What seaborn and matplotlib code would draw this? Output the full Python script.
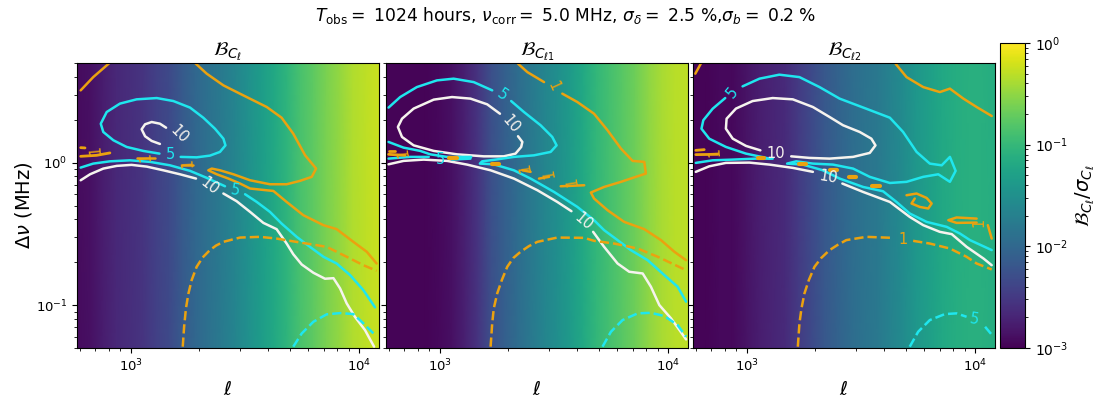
# Bias over sigma maps in the (ell, delta nu) plane, three panels plus a shared colour bar

import numpy as np
import pandas as pd
import matplotlib
matplotlib.use("Agg")
import matplotlib.pyplot as plt
from matplotlib.colors import LogNorm
import seaborn as sns

ORANGE = "#eba20f"
CYAN = "#1fe6ee"
WHITE = "#f6f3ee"

# background: bias / sigma at 24 equal log-ell steps
bias_cl = [1.23e-3, 1.32e-3, 1.74e-3, 2.14e-3, 2.45e-3, 2.82e-3, 3.72e-3, 4.57e-3,
           6.9e-3, 9.8e-3, 1.29e-2, 1.70e-2, 2.24e-2, 3.16e-2, 4.47e-2, 6.3e-2,
           8.9e-2, 1.35e-1, 1.78e-1, 2.5e-1, 3.3e-1, 4.4e-1, 5.0e-1, 5.8e-1]
bias_cl1 = [1.07e-3, 1.07e-3, 1.07e-3, 1.07e-3, 1.15e-3, 1.32e-3, 1.86e-3, 2.82e-3,
            5.2e-3, 7.9e-3, 1.12e-2, 1.58e-2, 2.24e-2, 2.95e-2, 4.2e-2, 6.3e-2,
            9.5e-2, 1.26e-1, 1.66e-1, 2.2e-1, 3.1e-1, 4.0e-1, 4.7e-1, 5.0e-1]
bias_cl2 = [1.07e-3, 1.07e-3, 1.15e-3, 1.15e-3, 1.41e-3, 1.74e-3, 2.0e-3, 2.3e-3,
            3.2e-3, 4.6e-3, 6.5e-3, 8.5e-3, 1.12e-2, 1.38e-2, 1.58e-2, 2.1e-2,
            2.75e-2, 3.9e-2, 4.8e-2, 6.3e-2, 7.2e-2, 7.8e-2, 7.8e-2, 7.2e-2]

# contour lines, log10(ell) and log10(delta nu in MHz)
# panel 1
a_w1_l = [2.781, 2.822, 2.880, 2.939, 3.004, 3.070, 3.143, 3.216, 3.286]
a_w1_d = [-.124, -.082, -.042, -.023, -.016, -.028, -.054, -.082, -.112]
a_w2_l = [3.406, 3.464, 3.523, 3.581, 3.639, 3.683, 3.712, 3.749, 3.800, 3.851, 3.888, 3.917, 3.946, 3.982, 4.026, 4.066]
a_w2_d = [-.217, -.271, -.346, -.423, -.467, -.568, -.643, -.715, -.773, -.815, -.811, -.883, -.988, -1.082, -1.175, -1.292]
a_w3_l = [3.155, 3.128, 3.092, 3.063, 3.048, 3.063, 3.092, 3.128]
a_w3_d = [.245, .273, .285, .269, .234, .185, .152, .131]
a_c1_l = [3.126, 3.055, 2.982, 2.924, 2.880, 2.869, 2.895, 2.953, 3.026, 3.114, 3.187, 3.260, 3.318, 3.369, 3.406, 3.415, 3.391, 3.347, 3.289, 3.219]
a_c1_d = [.063, .082, .110, .157, .215, .273, .355, .414, .444, .453, .432, .386, .315, .238, .168, .121, .075, .049, .037, .040]
a_c2_l = [2.781, 2.836, 2.909, 2.997, 3.085, 3.172, 3.260, 3.333, 3.413]
a_c2_d = [-.035, -.007, .009, .016, .005, -.019, -.058, -.107, -.166]
a_c3_l = [3.501, 3.552, 3.610, 3.661, 3.727, 3.785, 3.844, 3.902, 3.961, 4.019, 4.070]
a_c3_d = [-.222, -.276, -.346, -.428, -.521, -.591, -.661, -.708, -.790, -.895, -1.016]
a_cd_l = [3.712, 3.749, 3.800, 3.858, 3.917, 3.975, 4.019, 4.070]
a_cd_d = [-1.292, -1.199, -1.117, -1.065, -1.056, -1.063, -1.128, -1.210]
a_o1_l = [2.781, 2.836, 2.907]
a_o1_d = [.507, .600, .699]
a_o2_l = [3.282, 3.333, 3.406, 3.493, 3.596, 3.661, 3.712, 3.764, 3.812, 3.793, 3.742, 3.683, 3.610, 3.523, 3.450, 3.391, 3.355,
          3.340, 3.377, 3.428, 3.479, 3.523, 3.625, 3.683, 3.756, 3.844, 3.902, 3.975, 4.034, 4.077]
a_o2_d = [.699, .624, .542, .472, .390, .315, .203, .051, -.042, -.100, -.128, -.152, -.152, -.124, -.082, -.054, -.042,
          -.054, -.082, -.112, -.147, -.182, -.199, -.276, -.369, -.439, -.467, -.556, -.626, -.708]
a_od_l = [3.228, 3.234, 3.242, 3.253, 3.267, 3.289, 3.315, 3.347, 3.374, 3.406, 3.479, 3.566, 3.639, 3.698, 3.771, 3.858, 3.946, 4.019, 4.077]
a_od_d = [-1.292, -1.152, -1.023, -.918, -.825, -.731, -.666, -.614, -.582, -.556, -.526, -.521, -.533, -.549, -.568, -.591, -.661, -.720, -.759]
a_f1_l = [2.781, 2.851, 2.909]
a_f1_d = [.044, .051, .068]
a_f2_l = [2.781, 2.800]
a_f2_d = [.105, .103]
a_f3_l = [3.026, 3.107]
a_f3_d = [.030, .030]
a_f4_l = [3.223, 3.272]
a_f4_d = [-.019, -.019]

# panel 2
b_w1_l = [2.776, 2.842, 2.930, 3.032, 3.120, 3.223, 3.325, 3.428, 3.515, 3.577]
b_w1_d = [-.012, .012, .021, .012, -.014, -.054, -.112, -.194, -.276, -.341]
b_w2_l = [3.672, 3.720, 3.779, 3.830, 3.889, 3.925, 3.962, 4.013, 4.050, 4.079]
b_w2_d = [-.486, -.591, -.708, -.766, -.778, -.871, -1.000, -1.093, -1.175, -1.241]
b_w3_l = [3.264, 3.208, 3.135, 3.054, 2.974, 2.886, 2.835, 2.817, 2.835, 2.886, 2.974, 3.076, 3.193, 3.281, 3.332, 3.357, 3.362, 3.343]
b_w3_d = [.343, .409, .449, .460, .442, .379, .308, .250, .180, .121, .082, .058, .044, .044, .063, .110, .145, .185]
b_c1_l = [2.776, 2.827, 2.900, 2.988, 3.061, 3.149, 3.230]
b_c1_d = [.386, .460, .530, .577, .589, .565, .507]
b_c2_l = [3.313, 3.369, 3.442, 3.493, 3.512, 3.486, 3.413, 3.325, 3.245, 3.186, 3.176, 3.237, 3.325, 3.398, 3.501, 3.603, 3.676, 3.720, 3.779, 3.837, 3.911, 3.984, 4.042, 4.079]
b_c2_d = [.432, .355, .262, .180, .121, .075, .051, .040, .021, .009, -.007, -.012, -.054, -.112, -.206, -.311, -.404, -.474, -.544, -.614, -.685, -.790, -.871, -.976]
b_c3_l = [2.776, 2.842, 2.915, 2.959, 3.032, 3.138]
b_c3_d = [.145, .105, .082, .058, .040, .040]
b_c4_l = [2.776, 2.871, 2.952]
b_c4_d = [.028, .040, .040]
b_c5_l = [3.054, 3.135]
b_c5_d = [.021, .028]
b_cd_l = [3.713, 3.750, 3.801, 3.867, 3.925, 3.984, 4.042, 4.079]
b_cd_d = [-1.292, -1.187, -1.105, -1.058, -1.054, -1.077, -1.140, -1.222]
b_o1_l = [3.343, 3.384, 3.457]
b_o1_d = [.694, .635, .565]
b_o2_l = [3.537, 3.603, 3.676, 3.735, 3.794, 3.845, 3.896, 3.903, 3.859, 3.794, 3.720, 3.662, 3.676, 3.735, 3.808, 3.896, 3.969, 4.028, 4.079]
b_o2_d = [.484, .425, .343, .227, .098, .012, .005, -.077, -.100, -.135, -.171, -.210, -.252, -.334, -.416, -.467, -.544, -.626, -.685]
b_od_l = [3.223, 3.230, 3.237, 3.252, 3.272, 3.296, 3.322, 3.354, 3.391, 3.428, 3.515, 3.633, 3.676, 3.764, 3.867, 3.955, 4.079]
b_od_d = [-1.292, -1.128, -1.023, -.918, -.825, -.731, -.670, -.626, -.586, -.556, -.526, -.528, -.549, -.568, -.603, -.661, -.755]
b_f1_l = [2.776, 2.805]
b_f1_d = [.082, .082]
b_f2_l = [2.776, 2.849]
b_f2_d = [.058, .051]
b_f3_l = [3.040, 3.076]
b_f3_d = [.035, .035]
b_f4_l = [3.230, 3.259]
b_f4_d = [-.007, -.007]
b_f5_l = [3.362, 3.398]
b_f5_d = [-.054, -.065]
b_f6_l = [3.435, 3.479]
b_f6_d = [-.112, -.100]
b_f7_l = [3.530, 3.633]
b_f7_d = [-.166, -.159]

# panel 3
c_w1_l = [2.777, 2.836, 2.909, 3.012, 3.100, 3.202, 3.290]
c_w1_d = [-.065, -.026, -.002, 0, -.014, -.037, -.065]
c_w2_l = [3.419, 3.510, 3.627, 3.714, 3.773, 3.846, 3.898, 3.963, 4.037, 4.073]
c_w2_d = [-.147, -.206, -.276, -.381, -.439, -.486, -.502, -.591, -.673, -.720]
c_w3_l = [3.060, 2.997, 2.939, 2.909, 2.912, 2.953, 3.026, 3.114, 3.202, 3.290, 3.363, 3.422, 3.495, 3.546, 3.564, 3.539, 3.466, 3.363, 3.275, 3.195]
c_w3_d = [.086, .117, .168, .238, .308, .379, .432, .453, .444, .390, .320, .262, .215, .168, .121, .068, .040, .028, .033, .044]
c_c1_l = [2.982, 3.056, 3.143, 3.231, 3.319, 3.407, 3.524, 3.627, 3.685, 3.744, 3.802, 3.854, 3.890, 3.915, 3.890, 3.839, 3.773, 3.700, 3.627,
          3.539, 3.466, 3.378, 3.290, 3.217, 3.177, 3.246, 3.334, 3.407, 3.510, 3.597, 3.656, 3.714, 3.788, 3.876, 3.934, 3.978, 4.073]
c_c1_d = [.535, .589, .617, .600, .530, .449, .378, .315, .215, .075, -.007, -.019, .040, -.058, -.135, -.082, -.100, -.135, -.143,
          -.100, -.042, -.014, -.007, .009, -.007, -.014, -.054, -.112, -.171, -.201, -.276, -.357, -.416, -.451, -.498, -.544, -.614]
c_c2_l = [2.906, 2.851, 2.810, 2.802, 2.836, 2.909, 2.997, 3.100]
c_c2_d = [.453, .378, .297, .238, .168, .110, .063, .028]
c_c3_l = [2.777, 2.851, 2.939, 3.041, 3.114]
c_c3_d = [-.002, .016, .021, .028, .028]
c_cd1_l = [3.714, 3.751, 3.802, 3.868, 3.919, 3.963]
c_cd1_d = [-1.292, -1.187, -1.105, -1.063, -1.058, -1.082]
c_cd2_l = [4.044, 4.078]
c_cd2_d = [-1.152, -1.217]
c_o1_l = [3.652, 3.700, 3.773, 3.846, 3.890, 3.949, 4.007, 4.073]
c_o1_d = [.694, .600, .530, .495, .519, .449, .390, .327]
c_o2_l = [3.700, 3.744, 3.788, 3.810, 3.795, 3.758, 3.722, 3.736]
c_o2_d = [-.229, -.217, -.248, -.287, -.322, -.311, -.287, -.252]
c_o3_l = [4.007, 3.919, 3.883, 3.919, 4.007]
c_o3_d = [-.393, -.385, -.404, -.423, -.421]
c_o4_l = [4.056, 4.073]
c_o4_d = [-.439, -.533]
c_o5_l = [2.775, 2.799]
c_o5_d = [.624, .694]
c_o6_l = [2.777, 2.814]
c_o6_d = [.086, .091]
c_o7_l = [2.777, 2.873]
c_o7_d = [.056, .058]
c_od1_l = [3.224, 3.231, 3.240, 3.253, 3.272, 3.297, 3.326, 3.363, 3.397, 3.436, 3.524, 3.638]
c_od1_d = [-1.292, -1.128, -1.023, -.918, -.825, -.731, -.670, -.614, -.579, -.544, -.521, -.528]
c_od2_l = [3.729, 3.802, 3.890, 3.963, 4.007, 4.073]
c_od2_d = [-.549, -.568, -.603, -.661, -.708, -.750]
c_f1_l = [3.048, 3.078]
c_f1_d = [.035, .035]
c_f2_l = [3.228, 3.261]
c_f2_d = [-.007, -.007]
c_f3_l = [3.363, 3.395]
c_f3_d = [-.054, -.054]
c_f4_l = [3.448, 3.480]
c_f4_d = [-.103, -.103]
c_f5_l = [3.549, 3.586]
c_f5_d = [-.161, -.161]

LW = 1.8

# (log ell, log dnu, colour, linestyle, width)
panel_lines = [
    [(a_w1_l, a_w1_d, WHITE, "-", LW), (a_w2_l, a_w2_d, WHITE, "-", LW), (a_w3_l, a_w3_d, WHITE, "-", LW),
     (a_c1_l, a_c1_d, CYAN, "-", LW), (a_c2_l, a_c2_d, CYAN, "-", LW), (a_c3_l, a_c3_d, CYAN, "-", LW),
     (a_cd_l, a_cd_d, CYAN, "--", LW), (a_o1_l, a_o1_d, ORANGE, "-", LW), (a_o2_l, a_o2_d, ORANGE, "-", LW),
     (a_od_l, a_od_d, ORANGE, "--", LW), (a_f1_l, a_f1_d, ORANGE, "-", 2), (a_f2_l, a_f2_d, ORANGE, "-", 2),
     (a_f3_l, a_f3_d, ORANGE, "-", LW), (a_f4_l, a_f4_d, ORANGE, "-", LW)],
    [(b_w1_l, b_w1_d, WHITE, "-", LW), (b_w2_l, b_w2_d, WHITE, "-", LW), (b_w3_l, b_w3_d, WHITE, "-", LW),
     (b_c1_l, b_c1_d, CYAN, "-", LW), (b_c2_l, b_c2_d, CYAN, "-", LW), (b_c3_l, b_c3_d, CYAN, "-", LW),
     (b_c4_l, b_c4_d, CYAN, "-", LW), (b_c5_l, b_c5_d, CYAN, "-", LW), (b_cd_l, b_cd_d, CYAN, "--", LW),
     (b_o1_l, b_o1_d, ORANGE, "-", LW), (b_o2_l, b_o2_d, ORANGE, "-", LW), (b_od_l, b_od_d, ORANGE, "--", LW),
     (b_f1_l, b_f1_d, ORANGE, "-", 2), (b_f2_l, b_f2_d, ORANGE, "-", 2), (b_f3_l, b_f3_d, ORANGE, "-", 3),
     (b_f4_l, b_f4_d, ORANGE, "-", 3), (b_f5_l, b_f5_d, ORANGE, "-", LW), (b_f6_l, b_f6_d, ORANGE, "-", LW),
     (b_f7_l, b_f7_d, ORANGE, "-", LW)],
    [(c_w1_l, c_w1_d, WHITE, "-", LW), (c_w2_l, c_w2_d, WHITE, "-", LW), (c_w3_l, c_w3_d, WHITE, "-", LW),
     (c_c1_l, c_c1_d, CYAN, "-", LW), (c_c2_l, c_c2_d, CYAN, "-", LW), (c_c3_l, c_c3_d, CYAN, "-", LW),
     (c_cd1_l, c_cd1_d, CYAN, "--", LW), (c_cd2_l, c_cd2_d, CYAN, "--", LW), (c_o1_l, c_o1_d, ORANGE, "-", LW),
     (c_o2_l, c_o2_d, ORANGE, "-", LW), (c_o3_l, c_o3_d, ORANGE, "-", LW), (c_o4_l, c_o4_d, ORANGE, "-", LW),
     (c_o5_l, c_o5_d, ORANGE, "-", LW), (c_o6_l, c_o6_d, ORANGE, "-", 2), (c_o7_l, c_o7_d, ORANGE, "-", 2),
     (c_od1_l, c_od1_d, ORANGE, "--", LW), (c_od2_l, c_od2_d, ORANGE, "--", LW), (c_f1_l, c_f1_d, ORANGE, "-", 3),
     (c_f2_l, c_f2_d, ORANGE, "-", 3), (c_f3_l, c_f3_d, ORANGE, "-", 3), (c_f4_l, c_f4_d, ORANGE, "-", 3),
     (c_f5_l, c_f5_d, ORANGE, "-", 3)],
]

# contour labels: text, log ell, log dnu, colour, rotation
panel_labels = [
    [("10", 3.212, .196, WHITE, -45), ("5", 3.174, .056, CYAN, 0), ("10", 3.347, -.164, WHITE, -38), ("5", 3.457, -.194, CYAN, -10),
     ("1", 2.844, .091, ORANGE, 95), ("1", 3.067, .040, ORANGE, 95), ("1", 3.248, 0, ORANGE, 95)],
    [("5", 3.274, .472, CYAN, -35), ("10", 3.313, .266, WHITE, -50), ("10", 3.630, -.416, WHITE, -40), ("1", 3.498, .535, ORANGE, -65),
     ("5", 3.003, .021, CYAN, 0), ("1", 2.842, .075, ORANGE, 100), ("1", 3.376, -.030, ORANGE, 100), ("1", 3.479, -.072, ORANGE, 100),
     ("1", 3.581, -.128, ORANGE, 100)],
    [("5", 2.936, .488, CYAN, 50), ("10", 3.129, .063, WHITE, 0), ("10", 3.359, -.105, WHITE, -10), ("1", 2.858, .075, ORANGE, 95),
     ("1", 4.019, -.416, ORANGE, 90), ("1", 3.685, -.540, ORANGE, 0), ("5", 3.996, -1.100, CYAN, -10)],
]

panel_bias = [bias_cl, bias_cl1, bias_cl2]
panel_titles = [r"$\mathcal{B}_{C_\ell}$", r"$\mathcal{B}_{C_{\ell 1}}$", r"$\mathcal{B}_{C_{\ell 2}}$"]
panel_left = [77, 386, 693]
ell_lim = (582, 12230)
dnu_lim = (0.05, 5.0)

W, H = 1101, 401


def px_box(left, top, right, bottom):
    return [left / W, 1 - bottom / H, (right - left) / W, (bottom - top) / H]


def main():
    sns.set_style("ticks", {"axes.edgecolor": "black", "text.color": "black", "xtick.color": "black",
                            "ytick.color": "black", "axes.labelcolor": "black"})
    fig = plt.figure(figsize=(W / 100, H / 100), dpi=100)
    cax = fig.add_axes(px_box(1000, 43, 1025, 348))

    for i, left in enumerate(panel_left):
        box = px_box(left, 63, left + 302, 348)
        # background colour bands, the log axes for the contours go on top
        ax_bg = fig.add_axes(box)
        strip = pd.DataFrame([panel_bias[i], panel_bias[i]])
        sns.heatmap(strip, ax=ax_bg, cmap="viridis", norm=LogNorm(1e-3, 1), cbar=i == 0, cbar_ax=cax if i == 0 else None,
                    xticklabels=False, yticklabels=False, shading="gouraud")
        ax_bg.set_xlim(0, len(panel_bias[i]) - 1)
        ax_bg.set_ylim(0, 1)
        ax_bg.set_xlabel("")
        ax_bg.set_ylabel("")
        if i == 0:
            cbar = ax_bg.collections[0].colorbar

        ax = fig.add_axes(box, facecolor="none")
        ax.set_xscale("log")
        ax.set_yscale("log")
        for log_ell, log_dnu, color, ls, lw in panel_lines[i]:
            sns.lineplot(x=10 ** np.array(log_ell), y=10 ** np.array(log_dnu), sort=False, estimator=None,
                         color=color, linestyle=ls, linewidth=lw, solid_joinstyle="round", ax=ax)
        for txt, log_ell, log_dnu, color, rot in panel_labels[i]:
            ax.text(10 ** log_ell, 10 ** log_dnu, txt, color=color, rotation=rot, fontsize=10.5,
                    ha="center", va="center", rotation_mode="anchor")
        ax.set_xlim(ell_lim)
        ax.set_ylim(dnu_lim)
        ax.set_title(panel_titles[i], fontsize=14, pad=4)
        ax.set_xlabel(r"$\ell$", fontsize=14)
        ax.tick_params(axis="both", which="major", labelsize=9.5)
        if i == 0:
            ax.set_ylabel(r"$\Delta\nu$ (MHz)", fontsize=14, labelpad=1)
        else:
            ax.set_ylabel("")
            ax.tick_params(axis="y", labelleft=False)

    cbar.outline.set_linewidth(0.8)
    cbar.outline.set_edgecolor("black")
    cbar.set_label(r"$\mathcal{B}_{C_\ell}/\sigma_{C_\ell}$", fontsize=14)
    cax.tick_params(labelsize=10)

    fig.text(566 / W, 1 - 15 / H, r"$T_{\rm obs}=$ 1024 hours, $\nu_{\rm corr}=$ 5.0 MHz, $\sigma_{\delta}=$ 2.5 %,$\sigma_{b}=$ 0.2 %",
             ha="center", va="center", fontsize=12.3)
    fig.savefig("out.png", dpi=100)
    plt.close(fig)


if __name__ == "__main__":
    main()
